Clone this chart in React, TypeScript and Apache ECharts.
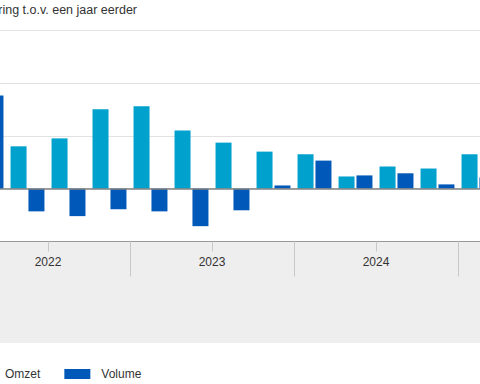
import React, { useEffect, useRef } from "react";
import * as echarts from "echarts";

const quarters = [
  "2022 K1", "2022 K2", "2022 K3", "2022 K4",
  "2023 K1", "2023 K2", "2023 K3", "2023 K4",
  "2024 K1", "2024 K2", "2024 K3", "2024 K4",
  "2025 K1",
];
const omzet = [21.0, 8.0, 9.5, 15.0, 15.6, 11.0, 8.7, 7.0, 6.5, 2.3, 4.2, 3.8, 6.5];
const volume = [17.6, -4.3, -5.2, -3.9, -4.3, -7.1, -4.1, 0.6, 5.3, 2.5, 2.9, 0.8, 2.1];
const years = ["2022", "2023", "2024", "2025"];
const yTitle = "% verandering t.o.v. een jaar eerder";

const FONT = '"Liberation Sans", Arial, Helvetica, sans-serif';
const OFFSET = 120; // chart is wider than the window; its left part is cropped
const CHART_W = 640;
const CHART_H = 384;

export default function App() {
  const ref = useRef<HTMLDivElement>(null);

  useEffect(() => {
    if (!ref.current) return;
    const chart = echarts.init(ref.current, undefined, { renderer: "svg" });

    const yearAxisData: string[] = [];
    for (let i = 0; i <= quarters.length; i++) {
      yearAxisData.push(i % 4 === 2 ? years[Math.floor(i / 4)] : "");
    }

    const gridLeft = OFFSET - 34;
    const gridWidth = 41 * quarters.length;

    chart.setOption({
      animation: false,
      textStyle: { fontFamily: FONT },
      graphic: [
        {
          type: "rect",
          z: -10,
          silent: true,
          shape: { x: 0, y: 242, width: CHART_W, height: 101 },
          style: { fill: "#eeeeee" },
        },
        {
          type: "text",
          x: OFFSET + 137,
          y: 10,
          silent: true,
          style: {
            text: yTitle,
            align: "right",
            verticalAlign: "middle",
            fontSize: 12.5,
            fontFamily: FONT,
            fill: "#333333",
          },
        },
      ],
      legend: {
        left: OFFSET - 37,
        top: 363,
        itemWidth: 26,
        itemHeight: 10,
        itemGap: 24,
        icon: "rect",
        textStyle: { fontSize: 12, color: "#333333", fontFamily: FONT, padding: [0, 0, 0, 6] },
        data: ["Omzet", "Volume"],
      },
      grid: {
        left: gridLeft,
        width: gridWidth,
        top: 30,
        height: 211.5,
        containLabel: false,
      },
      xAxis: [
        {
          type: "category",
          data: quarters,
          position: "bottom",
          offset: 0,
          axisLine: { onZero: false, lineStyle: { color: "#999999", width: 1 } },
          axisTick: { show: true, length: 10, lineStyle: { color: "#c8c8c8" } },
          axisLabel: { show: false },
          splitLine: { show: false },
        },
        {
          type: "category",
          data: yearAxisData,
          boundaryGap: false,
          position: "bottom",
          offset: 0,
          axisLine: { show: false, onZero: false },
          axisTick: {
            show: true,
            length: 35,
            interval: (i: number) => i % 4 === 0,
            lineStyle: { color: "#c8c8c8" },
          },
          axisLabel: {
            interval: 0,
            margin: 14,
            fontSize: 12,
            color: "#333333",
            fontFamily: FONT,
          },
          splitLine: { show: false },
        },
      ],
      yAxis: {
        type: "value",
        min: -10,
        max: 30,
        interval: 10,
        axisLabel: { show: false },
        axisLine: { show: false },
        axisTick: { show: false },
        splitLine: { lineStyle: { color: "#e2e2e2", width: 1 } },
      },
      series: [
        {
          name: "Omzet",
          type: "bar",
          xAxisIndex: 0,
          data: omzet,
          barWidth: 16,
          barGap: "12%",
          itemStyle: { color: "#00a1cd" },
          markLine: {
            silent: true,
            symbol: "none",
            label: { show: false },
            lineStyle: { color: "#808080", width: 1.5, type: "solid" },
            data: [{ yAxis: 0 }],
          },
        },
        {
          name: "Volume",
          type: "bar",
          xAxisIndex: 0,
          data: volume,
          barWidth: 16,
          barGap: "12%",
          itemStyle: { color: "#0058b8" },
        },
      ],
    });

    return () => chart.dispose();
  }, []);

  return (
    <div
      style={{
        position: "absolute",
        left: 0,
        top: 0,
        width: 480,
        height: 384,
        overflow: "hidden",
        background: "#ffffff",
      }}
    >
      <div
        ref={ref}
        style={{ position: "absolute", left: -OFFSET, top: 0, width: CHART_W, height: CHART_H }}
      />
    </div>
  );
}
